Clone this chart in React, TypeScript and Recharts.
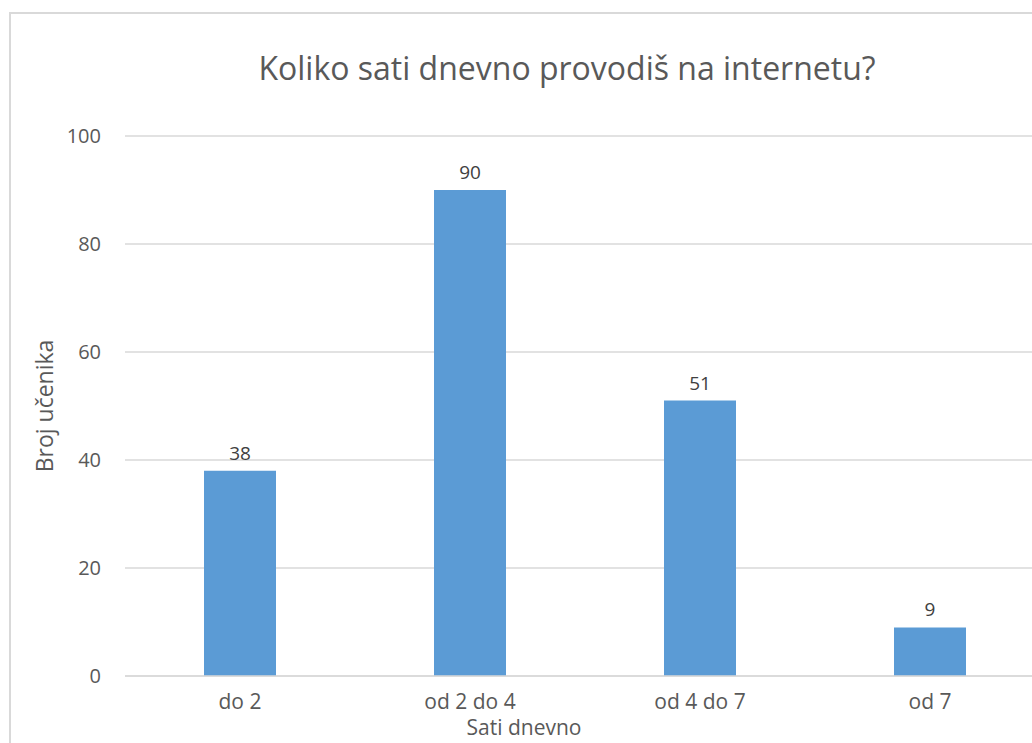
import React from 'react';
import { BarChart, Bar, XAxis, YAxis, CartesianGrid, LabelList } from 'recharts';

const categories = ['do 2', 'od 2 do 4', 'od 4 do 7', 'od 7'];
const values = [38, 90, 51, 9];
const yTicks = [0, 20, 40, 60, 80, 100];

const titleText = 'Koliko sati dnevno provodiš na internetu?';
const xTitle = 'Sati dnevno';
const yTitle = 'Broj učenika';

const data = categories.map((c, i) => ({ name: c, value: values[i] }));

const FONT = '"Open Sans", sans-serif';
const TEXT = '#595959';

export default function App() {
  return (
    <div style={{ position: 'fixed', left: 0, top: 0, width: 1032, height: 743, overflow: 'hidden', background: '#fff', fontFamily: FONT }}>
      <div style={{ position: 'absolute', left: 9, top: 12, width: 1100, height: 800, borderLeft: '2px solid #d9d9d9', borderTop: '2px solid #d9d9d9' }} />
      <div style={{ position: 'absolute', left: 0, top: 0 }}>
        <BarChart width={1060} height={760} data={data} margin={{ top: 136, right: 15, left: 0, bottom: 24 }}>
          <CartesianGrid horizontal vertical={false} stroke="#d9d9d9" strokeWidth={1.5} />
          <XAxis
            dataKey="name"
            height={60}
            axisLine={{ stroke: '#d9d9d9', strokeWidth: 1.5 }}
            tickLine={false}
            tickSize={0}
            tickMargin={18}
            tick={{ fill: TEXT, fontSize: 21, fontFamily: FONT }}
          />
          <YAxis
            width={125}
            domain={[0, 100]}
            ticks={yTicks}
            axisLine={false}
            tickLine={false}
            tickSize={0}
            tickMargin={24}
            tick={{ fill: TEXT, fontSize: 20, fontFamily: FONT }}
          />
          <Bar dataKey="value" fill="#5B9BD5" barSize={72} isAnimationActive={false}>
            <LabelList dataKey="value" position="top" offset={11} fill="#404040" fontSize={19} fontFamily={FONT} />
          </Bar>
        </BarChart>
      </div>
      <div style={{ position: 'absolute', left: 0, width: 1134, top: 44, lineHeight: '48px', textAlign: 'center', fontSize: 32, color: TEXT, whiteSpace: 'nowrap' }}>{titleText}</div>
      <div style={{ position: 'absolute', left: 424, width: 200, top: 715, height: 24, lineHeight: '24px', textAlign: 'center', fontSize: 21, color: TEXT, whiteSpace: 'nowrap' }}>{xTitle}</div>
      <div style={{ position: 'absolute', left: 44, top: 406, transform: 'translate(-50%, -50%) rotate(-90deg)', lineHeight: '30px', fontSize: 23, color: TEXT, whiteSpace: 'nowrap' }}>{yTitle}</div>
    </div>
  );
}
